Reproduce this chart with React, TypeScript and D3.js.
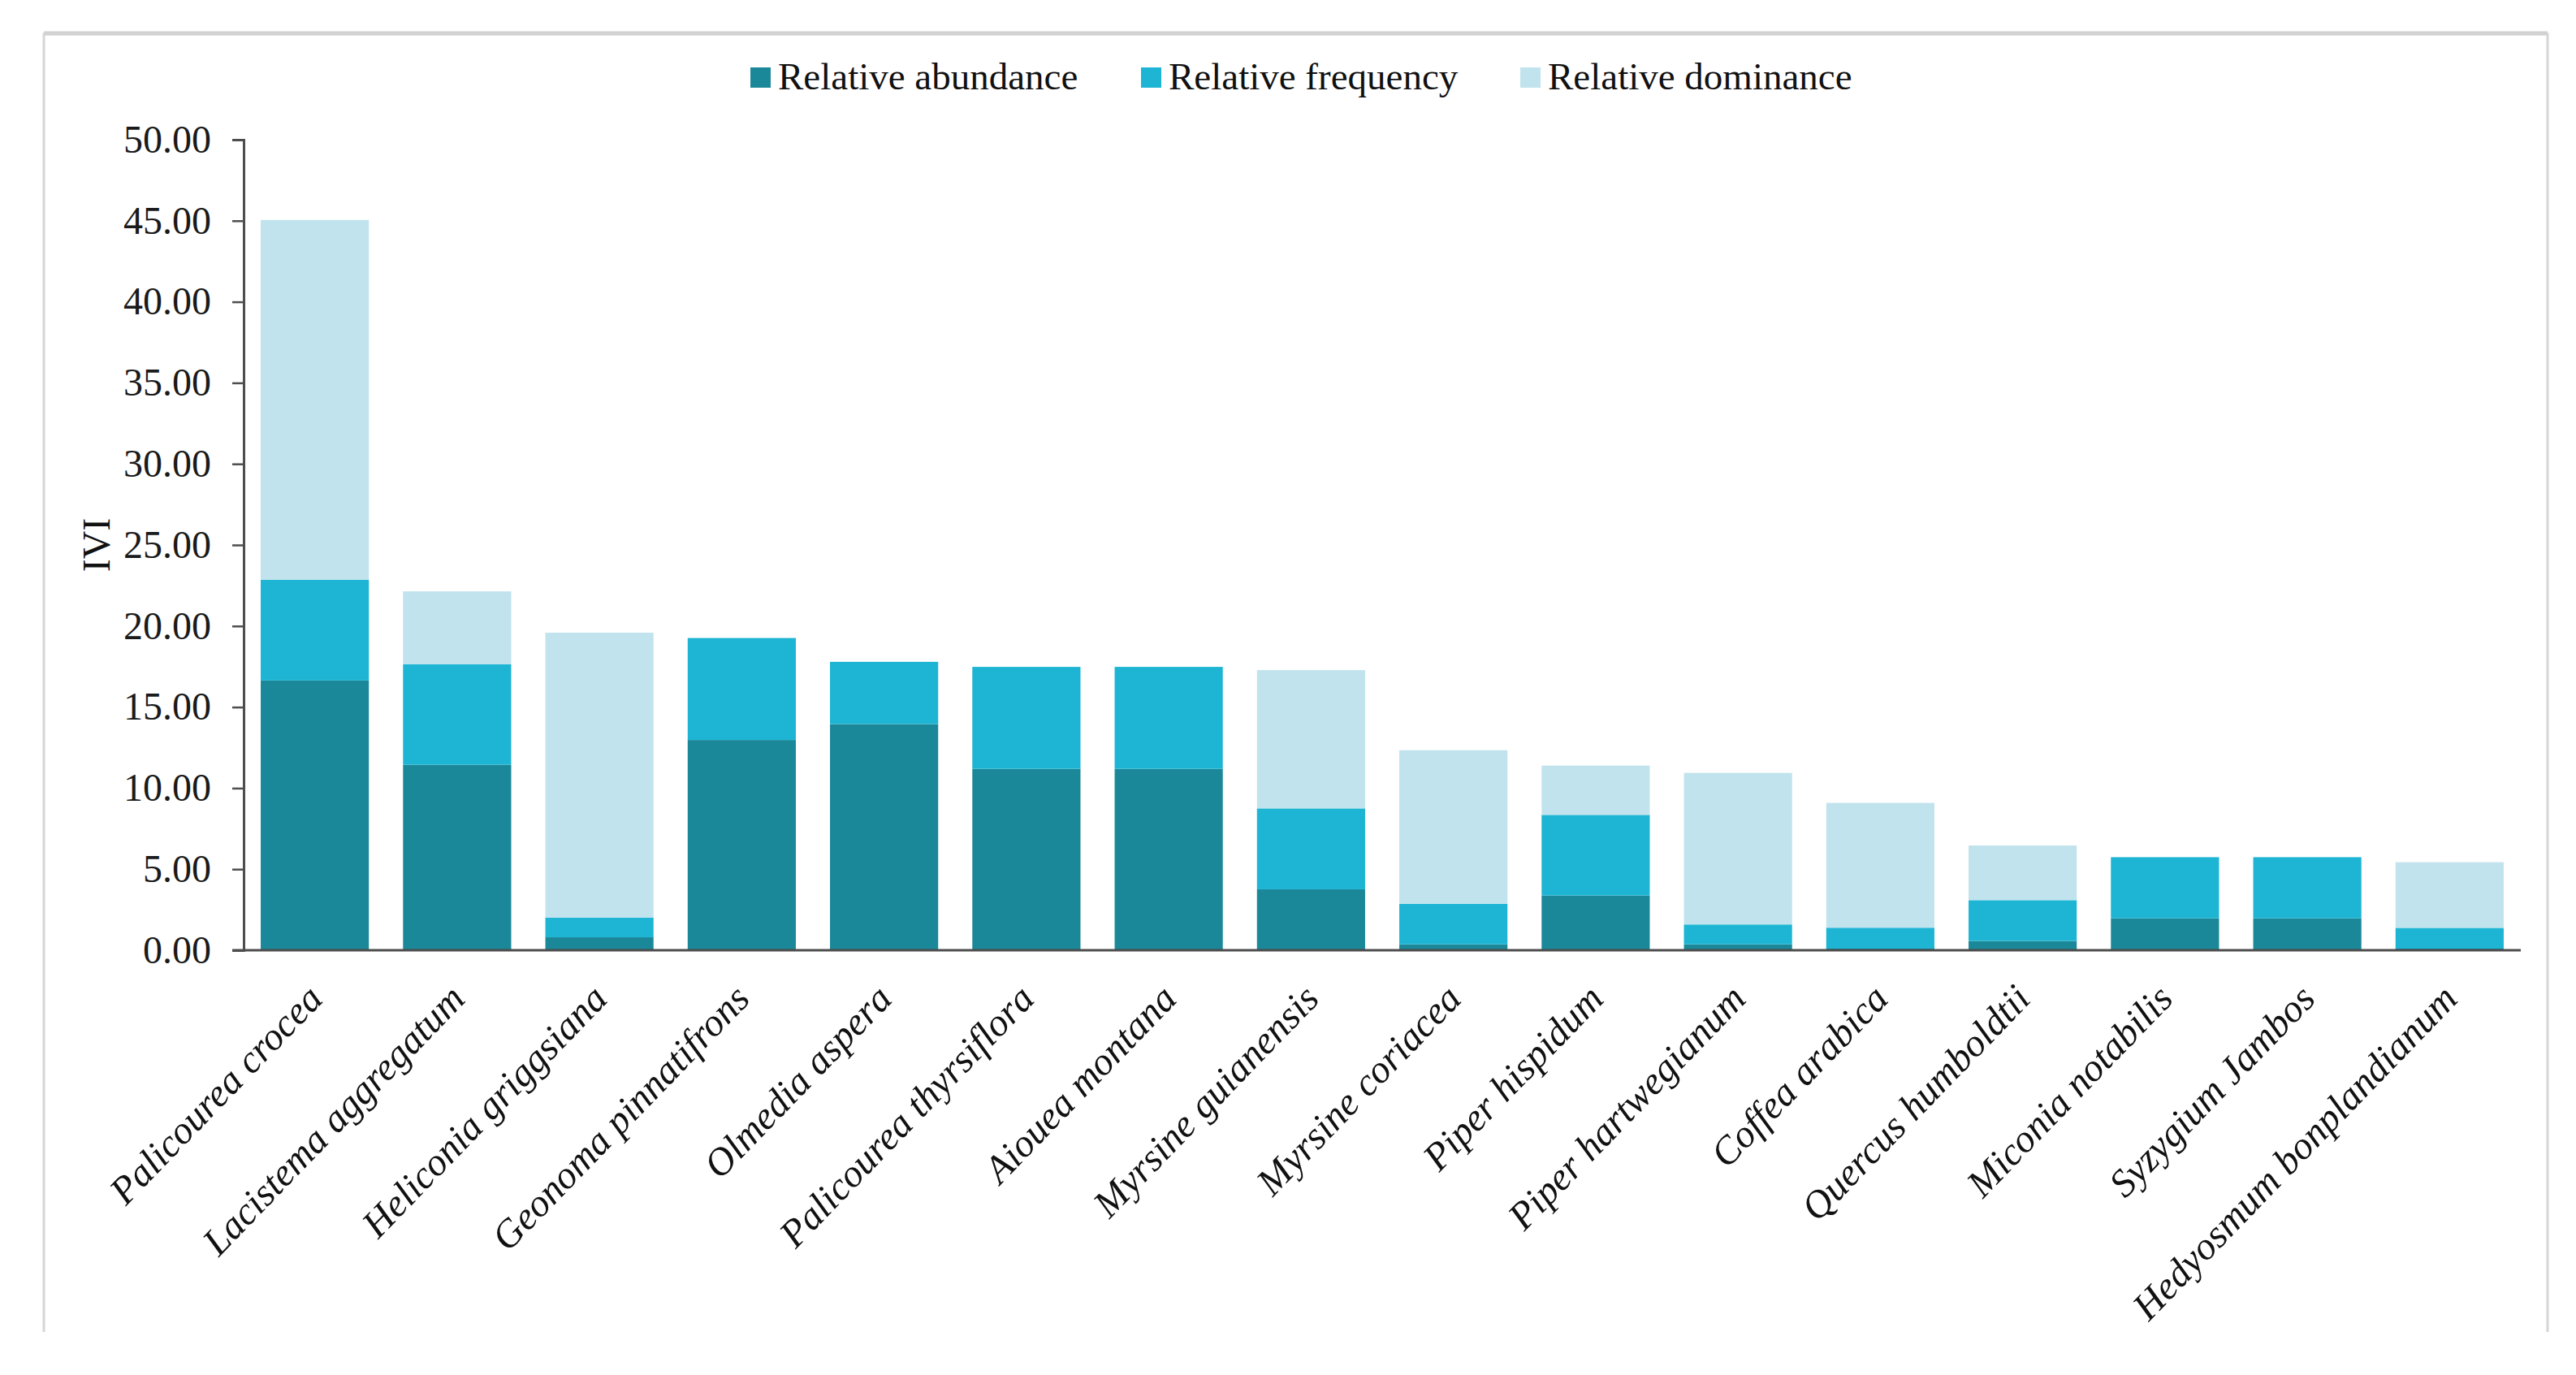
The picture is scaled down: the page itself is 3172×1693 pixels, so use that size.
import { useEffect, useRef } from 'react'
import * as d3 from 'd3'

const species = [
  'Palicourea crocea',
  'Lacistema aggregatum',
  'Heliconia griggsiana',
  'Geonoma pinnatifrons',
  'Olmedia aspera',
  'Palicourea thyrsiflora',
  'Aiouea montana',
  'Myrsine guianensis',
  'Myrsine coriacea',
  'Piper hispidum',
  'Piper hartwegianum',
  'Coffea arabica',
  'Quercus humboldtii',
  'Miconia notabilis',
  'Syzygium Jambos',
  'Hedyosmum bonplandianum',
]

const relAbundance = [16.64, 11.44, 0.8, 12.97, 13.95, 11.19, 11.19, 3.76, 0.37, 3.38, 0.37, 0.1, 0.57, 1.97, 1.97, 0.1]
const relFrequency = [6.21, 6.2, 1.21, 6.29, 3.84, 6.29, 6.29, 4.99, 2.49, 4.97, 1.22, 1.29, 2.52, 3.77, 3.77, 1.28]
const relDominance = [22.2, 4.5, 17.58, 0, 0, 0, 0, 8.53, 9.48, 3.04, 9.35, 7.7, 3.37, 0, 0, 4.05]

const seriesNames = ['Relative abundance', 'Relative frequency', 'Relative dominance']
const seriesColors = ['#1b8899', '#1db5d3', '#c1e3ee']
const yTicks = [0, 5, 10, 15, 20, 25, 30, 35, 40, 45, 50]

const W = 3172
const H = 1693
const serif = '"Liberation Serif", "Times New Roman", serif'

export default function App() {
  const ref = useRef<SVGSVGElement | null>(null)

  useEffect(() => {
    document.body.style.margin = '0'
    if (!ref.current) return

    const svg = d3.select(ref.current)
    svg.selectAll('*').remove()

    const left = 300
    const right = 3104
    const top = 172
    const bottom = 1170

    const rows = species.map((name, i) => ({
      name,
      a: relAbundance[i],
      f: relFrequency[i],
      d: relDominance[i],
    }))

    const stacked = d3.stack<(typeof rows)[number]>().keys(['a', 'f', 'd'])(rows as any)

    const x = d3
      .scaleBand()
      .domain(species)
      .range([left, right])
      .paddingInner(0.24)
      .paddingOuter(0.12)

    const y = d3.scaleLinear().domain([0, 50]).range([bottom, top])

    // frame around the figure
    svg
      .append('path')
      .attr('d', `M54,1640 V42 H3137 V1640`)
      .attr('fill', 'none')
      .attr('stroke', '#d6d6d6')
      .attr('stroke-width', 3)
    svg
      .append('line')
      .attr('x1', 54)
      .attr('x2', 3137)
      .attr('y1', 41)
      .attr('y2', 41)
      .attr('stroke', '#d2d2d2')
      .attr('stroke-width', 5)

    // stacked bars
    svg
      .append('g')
      .selectAll('g')
      .data(stacked)
      .enter()
      .append('g')
      .attr('fill', (_, i) => seriesColors[i])
      .selectAll('rect')
      .data((s) => s)
      .enter()
      .append('rect')
      .attr('x', (d) => x(d.data.name) ?? 0)
      .attr('width', x.bandwidth())
      .attr('y', (d) => y(d[1]))
      .attr('height', (d) => Math.max(0, y(d[0]) - y(d[1])))

    // y axis
    const yAxis = svg
      .append('g')
      .attr('transform', `translate(${left},0)`)
      .call(
        d3
          .axisLeft(y)
          .tickValues(yTicks)
          .tickSize(14)
          .tickPadding(26)
          .tickFormat((d) => (d as number).toFixed(2)),
      )
    yAxis.select('.domain').attr('stroke', '#4d4d4d').attr('stroke-width', 3)
    yAxis.selectAll('.tick line').attr('stroke', '#4d4d4d').attr('stroke-width', 2.5)
    yAxis
      .selectAll('.tick text')
      .attr('fill', '#1a1a1a')
      .attr('font-family', serif)
      .attr('font-size', 48)

    // x axis baseline
    svg
      .append('line')
      .attr('x1', left - 14)
      .attr('x2', right)
      .attr('y1', bottom)
      .attr('y2', bottom)
      .attr('stroke', '#4d4d4d')
      .attr('stroke-width', 3)

    // category labels
    svg
      .append('g')
      .selectAll('text')
      .data(species)
      .enter()
      .append('text')
      .attr('transform', (d) => {
        const cx = (x(d) ?? 0) + x.bandwidth() / 2 + 12
        return `translate(${cx},${bottom + 62}) rotate(-46)`
      })
      .attr('text-anchor', 'end')
      .attr('font-family', serif)
      .attr('font-style', 'italic')
      .attr('font-size', 48)
      .attr('fill', '#111')
      .text((d) => d)

    // y axis title
    svg
      .append('text')
      .attr('transform', `translate(135,${(top + bottom) / 2}) rotate(-90)`)
      .attr('text-anchor', 'middle')
      .attr('font-family', serif)
      .attr('font-size', 48)
      .attr('fill', '#111')
      .text('IVI')

    // legend
    const legendX = [924, 1405, 1872]
    const legend = svg
      .append('g')
      .selectAll('g')
      .data(seriesNames)
      .enter()
      .append('g')
      .attr('transform', (_, i) => `translate(${legendX[i]},83)`)
    legend
      .append('rect')
      .attr('width', 25)
      .attr('height', 25)
      .attr('fill', (_, i) => seriesColors[i])
    legend
      .append('text')
      .attr('x', 34)
      .attr('y', 27)
      .attr('font-family', serif)
      .attr('font-size', 47)
      .attr('fill', '#111')
      .text((d) => d)
  }, [])

  return (
    <svg
      ref={ref}
      width={W}
      height={H}
      viewBox={`0 0 ${W} ${H}`}
      style={{ display: 'block', background: '#fff' }}
    />
  )
}
